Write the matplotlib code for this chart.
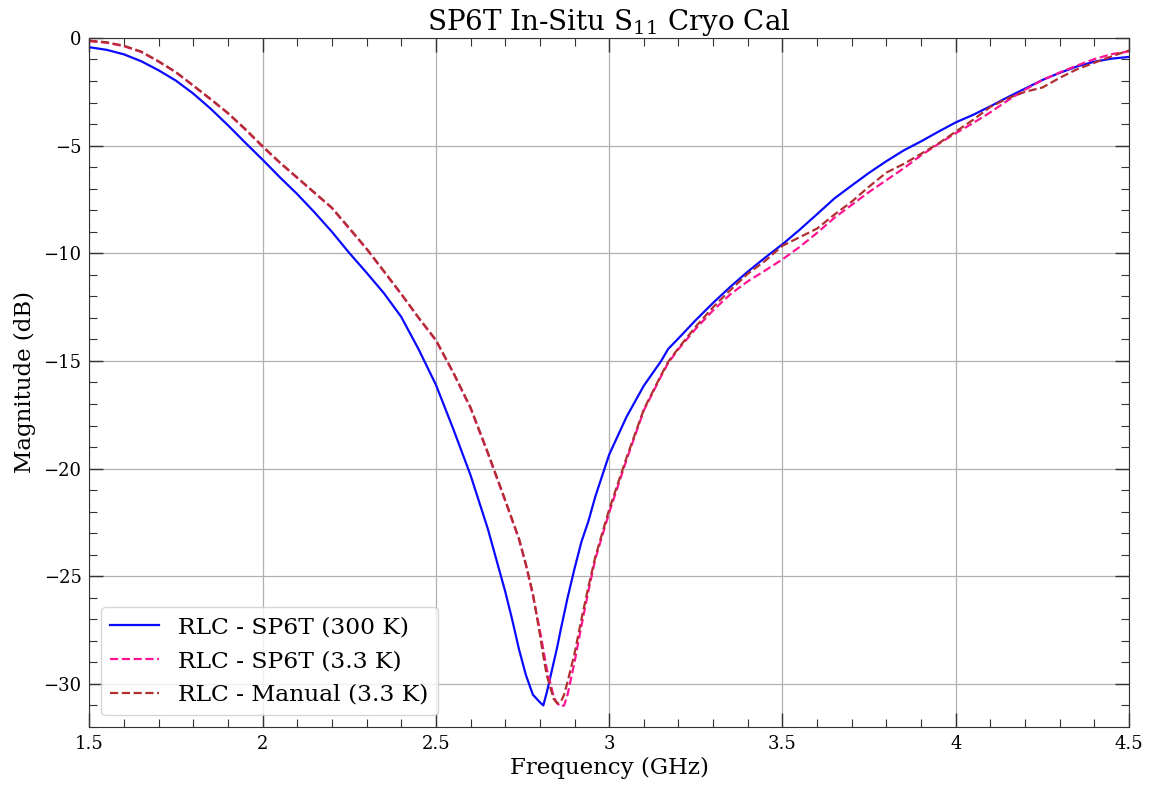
import matplotlib
matplotlib.use("Agg")
import matplotlib.pyplot as plt
from matplotlib.ticker import MultipleLocator, FuncFormatter

plt.rcParams['font.family'] = ['DejaVu Serif']
plt.rcParams['mathtext.fontset'] = 'dejavuserif'

freq = [1.50, 1.55, 1.60, 1.65, 1.70, 1.75, 1.80, 1.85, 1.90, 1.95,
        2.00, 2.05, 2.10, 2.15, 2.20, 2.25, 2.30, 2.35, 2.40, 2.45,
        2.50, 2.55, 2.60, 2.65, 2.70, 2.72, 2.74, 2.76, 2.78, 2.80,
        2.81, 2.82, 2.84, 2.85, 2.86, 2.87, 2.88, 2.90, 2.92, 2.94,
        2.96, 3.00, 3.05, 3.10, 3.15, 3.17, 3.20, 3.25, 3.30, 3.35,
        3.40, 3.45, 3.50, 3.55, 3.60, 3.65, 3.70, 3.75, 3.80, 3.85,
        3.90, 3.95, 4.00, 4.05, 4.10, 4.15, 4.20, 4.25, 4.30, 4.35,
        4.40, 4.45, 4.50]

sp6t_300k = [-0.43, -0.55, -0.76, -1.08, -1.50, -1.98, -2.58, -3.28, -4.05, -4.86,
             -5.65, -6.47, -7.25, -8.10, -9.00, -9.98, -10.90, -11.85, -12.95, -14.45,
             -16.10, -18.15, -20.30, -22.80, -25.70, -27.00, -28.40, -29.60, -30.50, -30.85,
             -31.00, -30.40, -29.00, -28.30, -27.50, -26.75, -26.00, -24.65, -23.40, -22.45,
             -21.30, -19.35, -17.60, -16.15, -15.00, -14.45, -13.95, -13.10, -12.30, -11.55,
             -10.85, -10.20, -9.58, -8.90, -8.18, -7.45, -6.85, -6.26, -5.72, -5.22,
             -4.80, -4.35, -3.92, -3.57, -3.17, -2.75, -2.35, -1.95, -1.62, -1.32,
             -1.10, -0.96, -0.88]

sp6t_3k = [-0.15, -0.22, -0.38, -0.65, -1.10, -1.60, -2.22, -2.85, -3.50, -4.25,
           -5.05, -5.80, -6.50, -7.20, -7.90, -8.85, -9.80, -10.85, -11.90, -13.00,
           -14.05, -15.55, -17.20, -19.30, -21.50, -22.40, -23.30, -24.50, -25.90, -27.50,
           -28.40, -29.30, -30.60, -30.90, -31.05, -31.00, -30.50, -29.00, -27.30, -25.70,
           -24.20, -22.05, -19.60, -17.30, -15.70, -15.10, -14.45, -13.50, -12.65, -11.90,
           -11.30, -10.80, -10.28, -9.70, -9.05, -8.35, -7.75, -7.15, -6.60, -6.05,
           -5.45, -4.92, -4.42, -3.95, -3.45, -2.90, -2.40, -1.95, -1.60, -1.28,
           -0.98, -0.75, -0.62]

manual_3k = [-0.12, -0.20, -0.36, -0.63, -1.08, -1.58, -2.20, -2.83, -3.48, -4.22,
             -5.02, -5.78, -6.48, -7.18, -7.88, -8.82, -9.78, -10.82, -11.88, -12.98,
             -14.02, -15.52, -17.15, -19.25, -21.45, -22.35, -23.25, -24.45, -25.80, -27.70,
             -28.70, -29.60, -30.70, -30.90, -30.85, -30.50, -29.90, -28.60, -27.00, -25.50,
             -24.10, -21.90, -19.50, -17.25, -15.65, -15.05, -14.40, -13.40, -12.50, -11.70,
             -10.95, -10.35, -9.65, -9.25, -8.85, -8.20, -7.60, -6.90, -6.25, -5.85,
             -5.38, -4.90, -4.35, -3.80, -3.20, -2.80, -2.50, -2.30, -1.85, -1.45,
             -1.15, -0.85, -0.58]

series_labels = ['RLC - SP6T (300 K)', 'RLC - SP6T (3.3 K)', 'RLC - Manual (3.3 K)']
title = r'SP6T In-Situ S$_{11}$ Cryo Cal'
xlabel = 'Frequency (GHz)'
ylabel = 'Magnitude (dB)'

fig = plt.figure(figsize=(11.51, 7.86), dpi=100)
ax = fig.add_axes([0.0775, 0.0751, 0.9035, 0.8766])

ax.plot(freq, sp6t_300k, color='#0a0aff', lw=1.6, ls='-', label=series_labels[0])
ax.plot(freq, sp6t_3k, color='#ff1493', lw=1.6, ls='--', label=series_labels[1])
ax.plot(freq, manual_3k, color='#b03030', lw=1.6, ls='--', label=series_labels[2])

ax.set_xlim(1.5, 4.5)
ax.set_ylim(-32, 0)
ax.xaxis.set_major_locator(MultipleLocator(0.5))
ax.xaxis.set_minor_locator(MultipleLocator(0.1))
ax.yaxis.set_major_locator(MultipleLocator(5))
ax.yaxis.set_minor_locator(MultipleLocator(1))
fmt = FuncFormatter(lambda v, p: f"{v:g}".replace('-', '\u2212'))
ax.xaxis.set_major_formatter(fmt)
ax.yaxis.set_major_formatter(fmt)

ax.tick_params(which='both', direction='in', top=True, right=True, labelsize=13,
               colors='#333333', labelcolor='black', pad=5.5)
ax.tick_params(which='major', length=10, width=1)
ax.tick_params(which='minor', length=6, width=0.8)
ax.grid(True, which='major', color='#b0b0b0', lw=0.9)
ax.set_axisbelow(True)
for s in ax.spines.values():
    s.set_color('#333333')

ax.set_title(title, fontsize=20, pad=4)
ax.set_xlabel(xlabel, fontsize=16.5, labelpad=3)
ax.set_ylabel(ylabel, fontsize=16.5, labelpad=5)
ax.legend(loc='lower left', fontsize=16.8, handlelength=2.1)

fig.savefig('out.png', dpi=100)
